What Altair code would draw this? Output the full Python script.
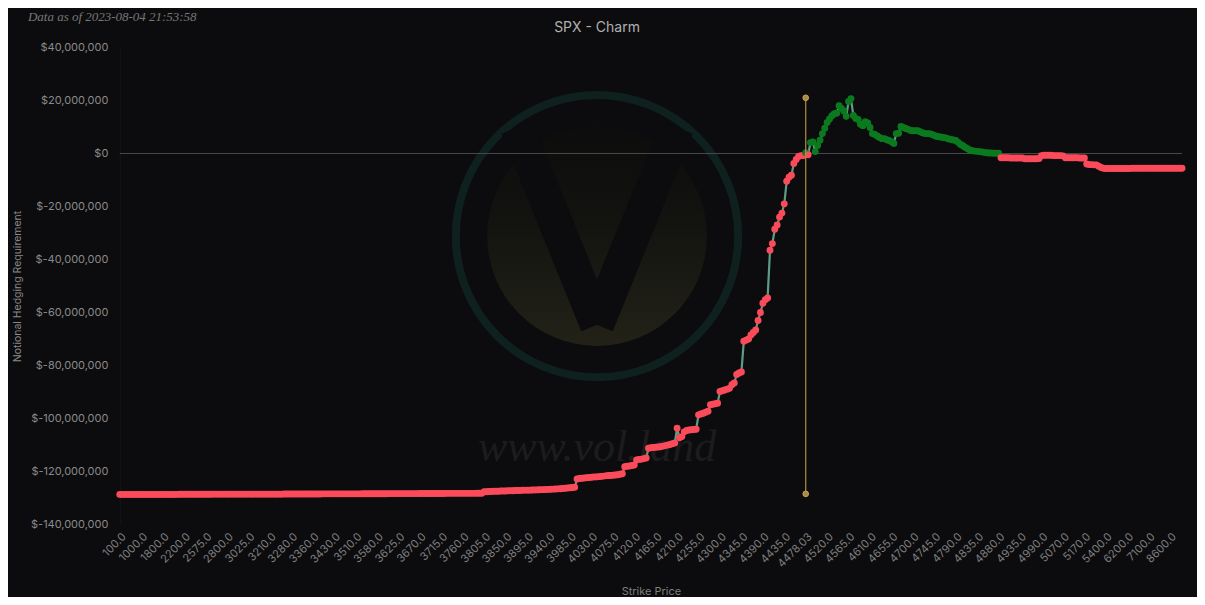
import altair as alt
import pandas as pd

# ---------------- data (values in $ millions) ----------------
strike_groups = [
    [100, 200, 300, 400, 500, 600, 700, 800, 900],
    [1000, 1100, 1200, 1300, 1400, 1500, 1600, 1700, 1750],
    [1800, 1850, 1900, 1950, 2000, 2050, 2100, 2125, 2150],
    [2200, 2250, 2300, 2350, 2400, 2450, 2500, 2525, 2550],
    [2575, 2600, 2625, 2650, 2675, 2700, 2725, 2750, 2775],
    [2800, 2825, 2850, 2875, 2900, 2925, 2950, 2975, 3000],
    [3025, 3050, 3075, 3100, 3125, 3150, 3175, 3190, 3200],
    [3210, 3220, 3225, 3230, 3240, 3250, 3260, 3270, 3275],
    [3280, 3290, 3300, 3310, 3320, 3325, 3330, 3340, 3350],
    [3360, 3370, 3375, 3380, 3390, 3400, 3410, 3420, 3425],
    [3430, 3440, 3450, 3460, 3470, 3475, 3480, 3490, 3500],
    [3510, 3520, 3525, 3530, 3540, 3550, 3560, 3570, 3575],
    [3580, 3585, 3590, 3595, 3600, 3605, 3610, 3615, 3620],
    [3625, 3630, 3635, 3640, 3645, 3650, 3655, 3660, 3665],
    [3670, 3675, 3680, 3685, 3690, 3695, 3700, 3705, 3710],
    [3715, 3720, 3725, 3730, 3735, 3740, 3745, 3750, 3755],
    [3760, 3765, 3770, 3775, 3780, 3785, 3790, 3795, 3800],
    [3805, 3810, 3815, 3820, 3825, 3830, 3835, 3840, 3845],
    [3850, 3855, 3860, 3865, 3870, 3875, 3880, 3885, 3890],
    [3895, 3900, 3905, 3910, 3915, 3920, 3925, 3930, 3935],
    [3940, 3945, 3950, 3955, 3960, 3965, 3970, 3975, 3980],
    [3985, 3990, 3995, 4000, 4005, 4010, 4015, 4020, 4025],
    [4030, 4035, 4040, 4045, 4050, 4055, 4060, 4065, 4070],
    [4075, 4080, 4085, 4090, 4095, 4100, 4105, 4110, 4115],
    [4120, 4125, 4130, 4135, 4140, 4145, 4150, 4155, 4160],
    [4165, 4170, 4175, 4180, 4185, 4190, 4195, 4200, 4205],
    [4210, 4215, 4220, 4225, 4230, 4235, 4240, 4245, 4250],
    [4255, 4260, 4265, 4270, 4275, 4280, 4285, 4290, 4295],
    [4300, 4305, 4310, 4315, 4320, 4325, 4330, 4335, 4340],
    [4345, 4350, 4355, 4360, 4365, 4370, 4375, 4380, 4385],
    [4390, 4395, 4400, 4405, 4410, 4415, 4420, 4425, 4430],
    [4435, 4440, 4445, 4450, 4455, 4460, 4465, 4470, 4475],
    [4478.03, 4480, 4485, 4490, 4495, 4500, 4505, 4510, 4515],
    [4520, 4525, 4530, 4535, 4540, 4545, 4550, 4555, 4560],
    [4565, 4570, 4575, 4580, 4585, 4590, 4595, 4600, 4605],
    [4610, 4615, 4620, 4625, 4630, 4635, 4640, 4645, 4650],
    [4655, 4660, 4665, 4670, 4675, 4680, 4685, 4690, 4695],
    [4700, 4705, 4710, 4715, 4720, 4725, 4730, 4735, 4740],
    [4745, 4750, 4755, 4760, 4765, 4770, 4775, 4780, 4785],
    [4790, 4795, 4800, 4805, 4810, 4815, 4820, 4825, 4830],
    [4835, 4840, 4845, 4850, 4855, 4860, 4865, 4870, 4875],
    [4880, 4890, 4895, 4900, 4905, 4910, 4915, 4920, 4925],
    [4935, 4940, 4945, 4950, 4960, 4965, 4970, 4975, 4980],
    [4990, 5000, 5010, 5020, 5025, 5030, 5040, 5050, 5060],
    [5070, 5075, 5080, 5090, 5100, 5110, 5120, 5125, 5150],
    [5170, 5175, 5200, 5225, 5250, 5275, 5300, 5325, 5350],
    [5400, 5500, 5600, 5700, 5800, 5900, 6000, 6050, 6100],
    [6200, 6300, 6400, 6500, 6600, 6700, 6800, 6900, 7000],
    [7100, 7200, 7400, 7600, 7800, 8000, 8200, 8400, 8500],
    [8600, 8800, 9000, 9200, 9400, 9600],
]

value_groups = [
    [-128.6, -128.6, -128.6, -128.6, -128.6, -128.6, -128.6, -128.6, -128.6],
    [-128.6, -128.6, -128.6, -128.6, -128.6, -128.6, -128.6, -128.6, -128.6],
    [-128.6, -128.6, -128.6, -128.6, -128.6, -128.6, -128.6, -128.55, -128.55],
    [-128.55, -128.55, -128.55, -128.55, -128.55, -128.55, -128.55, -128.55, -128.55],
    [-128.55, -128.55, -128.55, -128.5, -128.5, -128.5, -128.5, -128.5, -128.5],
    [-128.5, -128.5, -128.5, -128.5, -128.5, -128.5, -128.5, -128.5, -128.5],
    [-128.5, -128.5, -128.5, -128.5, -128.5, -128.5, -128.5, -128.5, -128.5],
    [-128.5, -128.5, -128.5, -128.5, -128.5, -128.5, -128.45, -128.45, -128.45],
    [-128.45, -128.45, -128.45, -128.45, -128.45, -128.45, -128.45, -128.45, -128.45],
    [-128.45, -128.45, -128.45, -128.45, -128.4, -128.4, -128.4, -128.4, -128.4],
    [-128.4, -128.4, -128.4, -128.4, -128.4, -128.4, -128.4, -128.4, -128.4],
    [-128.4, -128.4, -128.4, -128.35, -128.35, -128.35, -128.35, -128.35, -128.35],
    [-128.35, -128.35, -128.35, -128.35, -128.35, -128.3, -128.3, -128.3, -128.3],
    [-128.3, -128.3, -128.3, -128.3, -128.3, -128.3, -128.3, -128.3, -128.3],
    [-128.25, -128.25, -128.25, -128.25, -128.25, -128.25, -128.25, -128.25, -128.25],
    [-128.25, -128.25, -128.2, -128.2, -128.2, -128.2, -128.2, -128.2, -128.2],
    [-128.2, -128.2, -128.2, -128.2, -128.2, -128.2, -128.15, -128.15, -128.15],
    [-127.6, -127.6, -127.5, -127.5, -127.4, -127.4, -127.4, -127.3, -127.3],
    [-127.3, -127.25, -127.2, -127.2, -127.15, -127.1, -127.1, -127.05, -127.0],
    [-127.0, -127.0, -126.95, -126.9, -126.9, -126.85, -126.8, -126.8, -126.75],
    [-126.7, -126.65, -126.6, -126.55, -126.5, -126.45, -126.4, -126.3, -126.2],
    [-126.1, -126.0, -125.9, -122.8, -122.6, -122.5, -122.4, -122.3, -122.2],
    [-122.1, -122.0, -122.0, -121.9, -121.8, -121.7, -121.6, -121.5, -121.5],
    [-121.4, -121.3, -121.2, -121.0, -120.8, -118.2, -118.0, -117.9, -117.7],
    [-117.5, -115.6, -115.4, -115.3, -115.1, -114.9, -111.2, -111.0, -110.9],
    [-110.8, -110.7, -110.6, -110.4, -110.2, -110.0, -109.8, -109.5, -109.2],
    [-103.6, -107.2, -106.8, -105.0, -104.5, -104.3, -104.2, -104.1, -104.0],
    [-98.6, -98.3, -98.0, -97.6, -97.2, -94.8, -94.6, -94.4, -94.2],
    [-89.8, -89.5, -89.2, -88.9, -88.6, -87.2, -86.6, -83.4, -82.8],
    [-82.4, -70.8, -70.4, -70.0, -68.5, -67.5, -66.6, -63.0, -60.0],
    [-56.5, -55.2, -54.5, -36.5, -34.0, -28.6, -27.0, -24.0, -22.5],
    [-19.0, -10.5, -9.0, -8.2, -3.8, -2.3, -1.1, -0.8, -0.8],
    [0.3, -0.5, 4.1, 4.3, 0.7, 3.0, 5.0, 7.5, 9.5],
    [11.7, 13.0, 14.2, 15.0, 15.2, 18.0, 17.0, 16.0, 14.0],
    [19.6, 20.7, 14.3, 13.2, 12.8, 11.0, 10.5, 12.0, 11.5],
    [9.8, 7.5, 7.2, 6.6, 6.0, 5.6, 5.6, 5.2, 4.9],
    [4.4, 3.8, 7.5, 7.6, 10.2, 9.8, 9.4, 9.1, 8.7],
    [8.6, 8.6, 8.6, 8.2, 7.8, 7.5, 7.5, 7.5, 7.2],
    [6.8, 6.4, 6.3, 6.1, 6.0, 5.8, 5.5, 5.3, 5.1],
    [4.9, 4.2, 3.4, 2.9, 2.3, 1.8, 1.2, 1.0, 0.9],
    [0.8, 0.7, 0.6, 0.4, 0.3, 0.2, 0.2, 0.1, 0.1],
    [0.1, -1.6, -1.6, -1.6, -1.6, -1.7, -1.7, -1.7, -1.7],
    [-1.7, -1.7, -2.0, -2.0, -2.0, -2.0, -2.0, -2.0, -1.9],
    [-0.8, -0.7, -0.7, -0.7, -0.7, -0.8, -0.8, -0.8, -0.8],
    [-0.9, -1.6, -1.6, -1.6, -1.6, -1.6, -1.6, -1.7, -1.7],
    [-1.7, -4.0, -4.2, -4.2, -4.3, -4.3, -4.8, -5.3, -5.6],
    [-5.7, -5.7, -5.7, -5.7, -5.7, -5.7, -5.7, -5.7, -5.7],
    [-5.7, -5.7, -5.6, -5.6, -5.6, -5.6, -5.6, -5.6, -5.6],
    [-5.6, -5.6, -5.6, -5.6, -5.6, -5.6, -5.6, -5.6, -5.6],
    [-5.6, -5.6, -5.6, -5.6, -5.6, -5.6],
]

spot_strike = "4478.03"
spot_top = 21.0      # $M
spot_bottom = -128.4  # $M

y_ticks = [40, 20, 0, -20, -40, -60, -80, -100, -120, -140]


def fmt(s):
    return f"{s:.2f}" if s != int(s) else f"{float(s):.1f}"


strike_labels, values = [], []
for sg, vg in zip(strike_groups, value_groups):
    for s, v in zip(sg, vg):
        strike_labels.append(fmt(s))
        values.append(v * 1e6)
axis_labels = [fmt(g[0]) for g in strike_groups]

df = pd.DataFrame({"strike": strike_labels, "value": values})
df["sign"] = ["pos" if v >= 0 else "neg" for v in df["value"]]
spot_df = pd.DataFrame({"strike": [spot_strike], "top": [spot_top * 1e6], "bottom": [spot_bottom * 1e6]})
spot_pts = pd.DataFrame({"strike": [spot_strike, spot_strike], "value": [spot_top * 1e6, spot_bottom * 1e6]})

# ---------------- styling ----------------
BG = "#0c0c0e"
RED = "#fb4b5b"
GREEN = "#0b7a1f"
LINE = "#5f9c85"
GOLD = "#b38d3f"
FONT = "Inter"

W, H = 1064, 478

x_enc = alt.X(
    "strike:N",
    sort=strike_labels,
    scale=alt.Scale(type="point", domain=strike_labels, padding=0),
    axis=alt.Axis(
        values=axis_labels, labelAngle=-45, labelOverlap=False, ticks=False, domain=False,
        labelColor="#7e7e7e", labelFontSize=11, labelFont=FONT, labelPadding=6,
        title="Strike Price", titleColor="#7e7e7e", titleFontSize=11, titleFont=FONT,
        titleFontWeight="normal", titleX=W / 2, titleY=67, titleBaseline="middle",
        grid=False,
    ),
)
y_scale = alt.Scale(domain=[-140e6, 40e6], nice=False, zero=False)
y_enc = alt.Y(
    "value:Q",
    scale=y_scale,
    axis=alt.Axis(
        values=[t * 1e6 for t in y_ticks],
        labelExpr='datum.value < 0 ? "$-" + format(-datum.value, ",") : "$" + format(datum.value, ",")',
        ticks=False, domain=True, domainColor="#16161a", grid=False,
        labelColor="#8a8a8a", labelFontSize=11, labelFont=FONT, labelPadding=12,
        title="Notional Hedging Requirement", titleColor="#8a8a8a", titleFontSize=10.5,
        titleFont=FONT, titleFontWeight="normal", titleX=-102, titleY=H / 2,
        titleBaseline="middle",
    ),
)

one = alt.Data(values=[{}])

# watermark (decorative)
ring = alt.Chart(one).mark_point(
    shape="circle", filled=False, stroke="#0e211e", strokeWidth=8, opacity=1
).encode(x=alt.value(478), y=alt.value(189), size=alt.value(80000))
disk = alt.Chart(one).mark_arc(
    color=alt.LinearGradient(
        gradient="linear", x1=0, y1=0, x2=0, y2=1,
        stops=[alt.GradientStop(color="#0c0d0c", offset=0),
               alt.GradientStop(color="#131410", offset=0.45),
               alt.GradientStop(color="#222218", offset=1)],
    )
).encode(x=alt.value(478), y=alt.value(189), radius=alt.value(110), theta=alt.value(0), theta2=alt.value(6.2832))
v_left = alt.Chart(one).mark_rule(color=BG, strokeWidth=34, strokeCap="butt").encode(
    x=alt.value(398), y=alt.value(80), x2=alt.value(478), y2=alt.value(278))
v_right = alt.Chart(one).mark_rule(color=BG, strokeWidth=34, strokeCap="butt").encode(
    x=alt.value(558), y=alt.value(80), x2=alt.value(478), y2=alt.value(278))
wm_text = alt.Chart(one).mark_text(
    text="www.vol.land", font="Liberation Serif", fontStyle="italic", fontSize=44,
    color="#1c1c1d", align="center", baseline="middle"
).encode(x=alt.value(478), y=alt.value(401))

zero = alt.Chart(one).mark_rule(color="#4a4a4a", strokeWidth=1).encode(y=alt.datum(0))

base = alt.Chart(df)
line = base.mark_line(color=LINE, strokeWidth=2.2).encode(x=x_enc, y=y_enc)
pts = base.mark_circle(size=48, opacity=1).encode(
    x=x_enc, y=y_enc,
    color=alt.Color("sign:N", scale=alt.Scale(domain=["neg", "pos"], range=[RED, GREEN]), legend=None),
)
spot = alt.Chart(spot_df).mark_rule(color=GOLD, strokeWidth=1.2).encode(x=x_enc, y="top:Q", y2="bottom:Q")
spot_end = alt.Chart(spot_pts).mark_circle(size=32, color="#a88848", opacity=1, stroke="#c9a35a", strokeWidth=1).encode(
    x=x_enc, y=alt.Y("value:Q"))

title = alt.Chart(one).mark_text(
    text="SPX - Charm", font=FONT, fontSize=14, color="#b0b0b0", align="center", baseline="middle"
).encode(x=alt.value(478), y=alt.value(-19))
asof = alt.Chart(one).mark_text(
    text="Data as of 2023-08-04 21:53:58", font="Liberation Serif", fontStyle="italic",
    fontSize=13, color="#777777", align="left", baseline="top"
).encode(x=alt.value(-92), y=alt.value(-36))

chart = alt.layer(
    ring, disk, v_left, v_right, wm_text, zero, line, pts, spot, spot_end, title, asof
).properties(
    width=W, height=H,
    autosize=alt.AutoSizeParams(type="none"),
    padding={"left": 112, "top": 39, "right": 15, "bottom": 72},
    background=BG,
).configure_view(stroke=None)

chart.save("out.html", embed_options={"renderer": "svg", "actions": False})
